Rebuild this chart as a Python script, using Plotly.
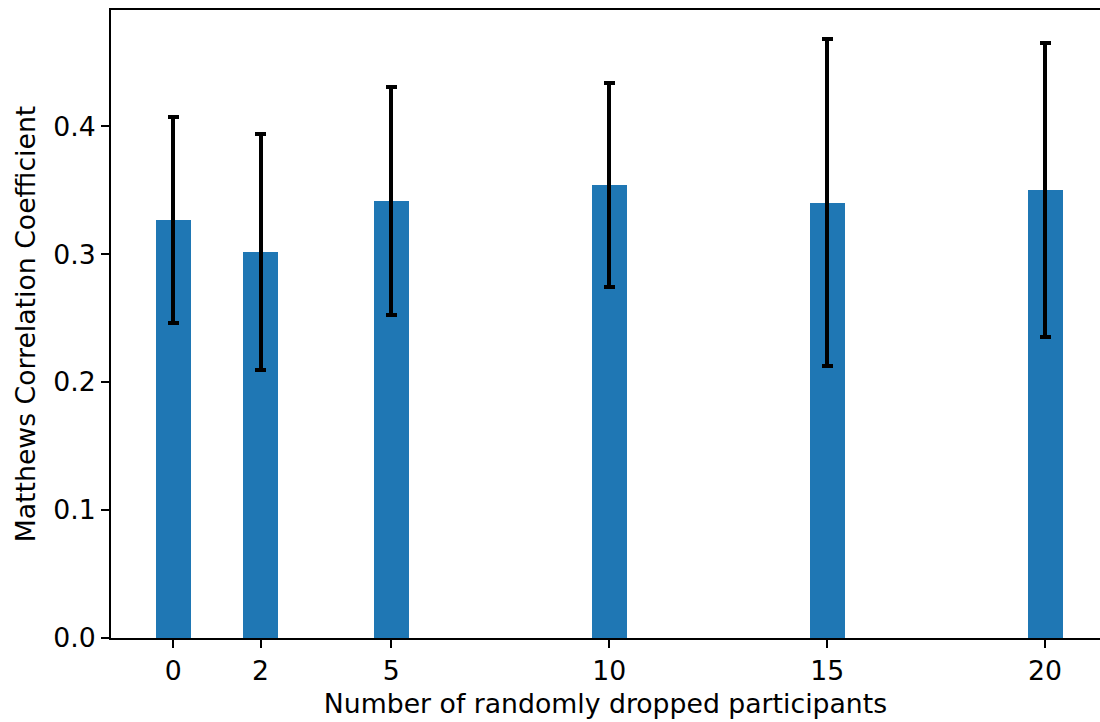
import plotly.graph_objects as go

dropped = [0, 2, 5, 10, 15, 20]
mcc_mean = [0.3268, 0.3020, 0.3416, 0.3541, 0.3403, 0.3502]
mcc_err = [0.0807, 0.0922, 0.0888, 0.0797, 0.1276, 0.1152]
x_ticks = [0, 2, 5, 10, 15, 20]
y_ticks = [0.0, 0.1, 0.2, 0.3, 0.4]

FONT = "DejaVu Sans"
FS = 26.7

fig = go.Figure()
fig.add_trace(go.Bar(
    x=dropped, y=mcc_mean, width=0.8,
    marker=dict(color="#1f77b4", line=dict(width=0)),
    error_y=dict(type="data", array=mcc_err, visible=True,
                 color="black", thickness=4, width=5.5),
))

fig.update_layout(
    width=1100, height=722,
    margin=dict(l=111, r=0, t=10, b=84),
    plot_bgcolor="white", paper_bgcolor="white",
    font=dict(family=FONT, size=FS, color="black"),
    showlegend=False,
    bargap=0,
)
fig.update_xaxes(
    range=[-1.43, 21.26],
    tickmode="array", tickvals=x_ticks, ticktext=[str(v) for v in x_ticks],
    ticks="outside", ticklen=8, tickwidth=2, tickcolor="black",
    showline=True, linecolor="black", linewidth=2, mirror=True,
    showgrid=False, zeroline=False,
    title=dict(text="Number of randomly dropped participants", standoff=9,
               font=dict(family=FONT, size=FS)),
    tickfont=dict(family=FONT, size=FS),
)
fig.update_yaxes(
    range=[0, 0.4909],
    tickmode="array", tickvals=y_ticks, ticktext=[f"{v:.1f}" for v in y_ticks],
    ticks="outside", ticklen=8, tickwidth=2, tickcolor="black",
    showline=True, linecolor="black", linewidth=2,
    showgrid=False, zeroline=False,
    title=dict(text="Matthews Correlation Coefficient", standoff=10,
               font=dict(family=FONT, size=FS)),
    tickfont=dict(family=FONT, size=FS),
)

fig.write_html(
    "out.html",
    config={"displayModeBar": False},
    post_script="document.body.style.margin='0';document.body.style.overflow='hidden';",
)
